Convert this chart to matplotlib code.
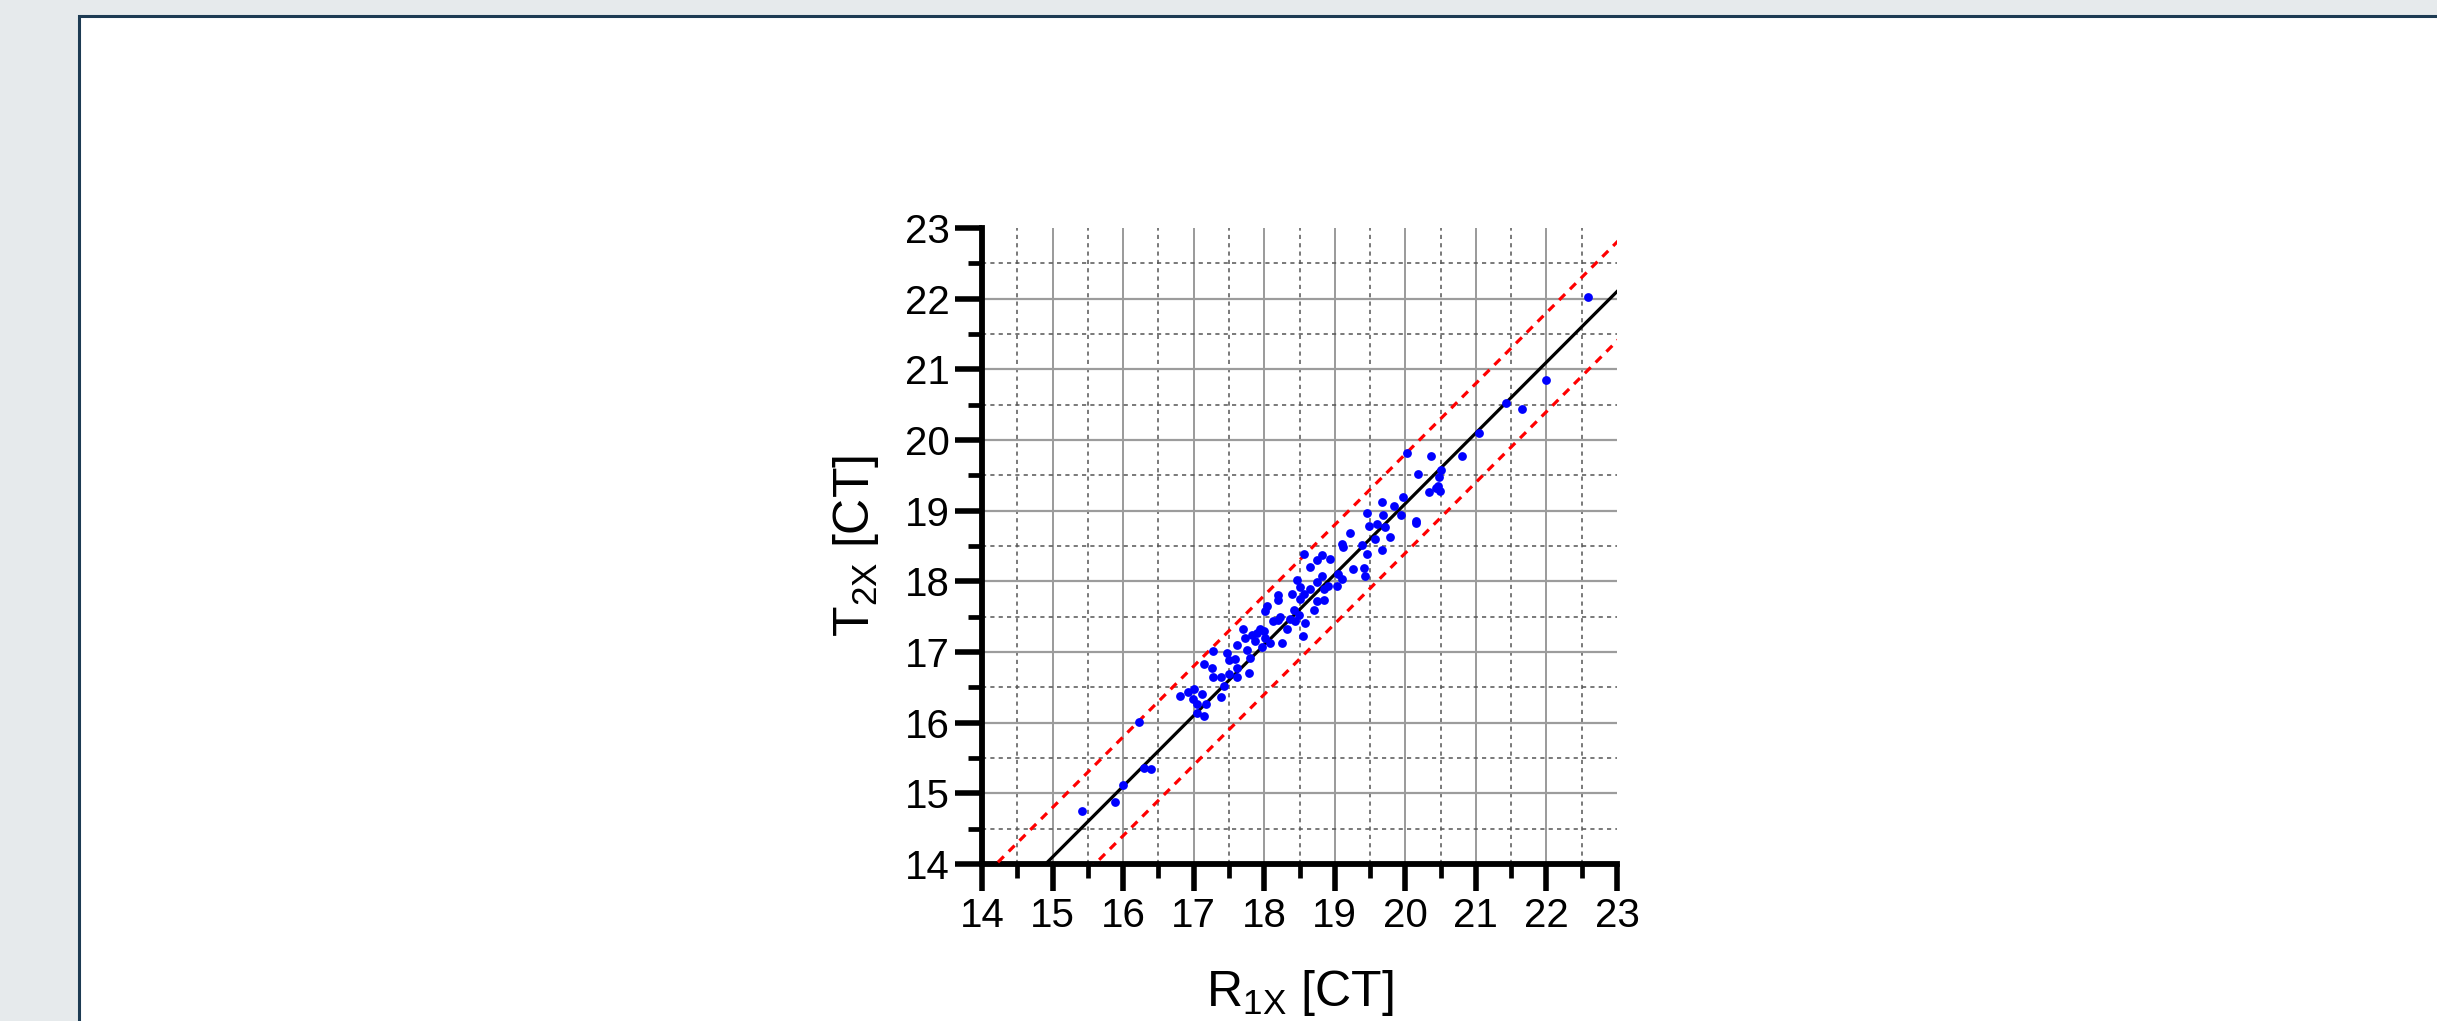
import numpy as np
import matplotlib.pyplot as plt
from matplotlib.patches import Rectangle
from matplotlib.ticker import MultipleLocator

plt.rcParams['font.family'] = ['Liberation Sans', 'DejaVu Sans']
plt.rcParams['mathtext.default'] = 'regular'
plt.rcParams['lines.scale_dashes'] = False

# Paired CT values
r1x = [15.41, 15.89, 16.00, 16.30, 16.39, 16.23, 17.05, 17.15,
       16.80, 16.92, 17.01, 16.99, 17.12, 17.04, 17.18, 17.38,
       17.14, 17.27, 17.26, 17.38, 17.27, 17.43, 17.47, 17.50,
       17.59, 17.61, 17.61, 17.50, 17.61, 17.70, 17.73, 17.76,
       17.80, 17.79, 17.83, 17.90, 17.87, 17.94, 18.00, 18.01,
       17.97, 18.08, 18.04, 18.01, 18.13, 18.19, 18.32, 18.25,
       18.58, 18.55, 18.44, 18.19,
       19.21, 19.10, 19.12, 19.38, 19.46, 19.67, 19.78, 19.57,
       19.26, 19.41, 19.43, 19.05, 19.10, 19.03, 18.93, 18.82,
       18.75, 18.65, 18.56, 18.82, 18.91, 18.85, 18.75, 18.46,
       18.51, 18.65, 18.56, 18.39, 18.20, 18.51, 18.75, 18.84,
       18.70, 18.42, 18.49, 18.23, 18.37,
       21.05, 20.81, 20.36, 20.03, 20.18, 20.51, 20.48, 20.47,
       20.43, 20.49, 20.33, 19.96, 19.67, 19.84, 19.45, 19.68,
       19.94, 20.15, 20.15, 19.49, 19.60, 19.71,
       22.59, 22.00, 21.42, 21.66]
t2x = [14.75, 14.88, 15.12, 15.36, 15.34, 16.01, 16.14, 16.10,
       16.38, 16.44, 16.47, 16.34, 16.40, 16.27, 16.26, 16.36,
       16.83, 17.02, 16.77, 16.65, 16.65, 16.52, 16.99, 16.89,
       16.90, 16.77, 16.65, 16.69, 17.10, 17.33, 17.20, 17.03,
       16.91, 16.70, 17.24, 17.27, 17.15, 17.32, 17.30, 17.20,
       17.07, 17.13, 17.65, 17.58, 17.44, 17.45, 17.32, 17.13,
       17.41, 17.22, 17.44, 17.80,
       18.69, 18.53, 18.48, 18.51, 18.39, 18.45, 18.63, 18.60,
       18.18, 18.19, 18.08, 18.10, 18.03, 17.94, 18.32, 18.37,
       18.30, 18.20, 18.39, 18.07, 17.94, 17.89, 17.99, 18.02,
       17.92, 17.89, 17.82, 17.82, 17.73, 17.75, 17.72, 17.73,
       17.59, 17.60, 17.53, 17.49, 17.46,
       20.10, 19.78, 19.77, 19.82, 19.52, 19.57, 19.47, 19.35,
       19.32, 19.28, 19.27, 19.20, 19.12, 19.07, 18.97, 18.94,
       18.94, 18.86, 18.83, 18.78, 18.81, 18.77,
       22.02, 20.85, 20.52, 20.44]

# Regression line and limits of agreement
fit_slope = 1.0
fit_intercept = -0.9
limit_offset = 0.7

ticks = np.arange(14, 24, 1)

fig = plt.figure(figsize=(24.37, 10.21), dpi=100, facecolor='#e6eaec')
fig.add_artist(Rectangle((79 / 2437, -0.05), 1.0, 1 - 16 / 1021 + 0.05,
                         transform=fig.transFigure, facecolor='white',
                         edgecolor='#1d3b53', linewidth=2.2, zorder=-1))
ax = fig.add_axes([0.403, 0.1538, 0.2605, 0.6229])
ax.patch.set_alpha(0)

xs = np.array([13.0, 24.0])
ax.plot(xs, fit_slope * xs + fit_intercept, color='black', lw=2.3, zorder=3)
for sign in (1, -1):
    ax.plot(xs, fit_slope * xs + fit_intercept + sign * limit_offset,
            color='#ff0000', lw=2.3, ls=(0, (6, 5)), zorder=3)
ax.scatter(r1x, t2x, s=40, color='#0000ff', linewidths=0, zorder=4)

ax.set_xlim(14, 23)
ax.set_ylim(14, 23)
ax.set_xticks(ticks)
ax.set_yticks(ticks)
ax.xaxis.set_minor_locator(MultipleLocator(0.5))
ax.yaxis.set_minor_locator(MultipleLocator(0.5))

ax.set_axisbelow(True)
ax.grid(which='major', axis='x', color='#7e7e7e', lw=1.1, ls='-')
ax.grid(which='major', axis='y', color='#9c9c9c', lw=1.6, ls='-')
ax.grid(which='minor', axis='both', color='#555555', lw=1.1, ls=(0, (3, 3)))
ax.xaxis.get_major_ticks()[-1].gridline.set_visible(False)
ax.yaxis.get_major_ticks()[-1].gridline.set_visible(False)

for side in ('top', 'right'):
    ax.spines[side].set_visible(False)
for side in ('left', 'bottom'):
    ax.spines[side].set_linewidth(4.2)
    ax.spines[side].set_capstyle('projecting')

ax.tick_params(which='major', length=19.5, width=4, labelsize=29, pad=4)
ax.tick_params(which='minor', length=10, width=3.4)

ax.set_xlabel('R$_{1X}$ [CT]', fontsize=36)
ax.set_ylabel('T$_{2X}$ [CT]', fontsize=36)
ax.xaxis.set_label_coords(0.5, -0.163)
ax.yaxis.set_label_coords(-0.16, 0.5)

fig.savefig('out.png', dpi=100, facecolor=fig.get_facecolor())
